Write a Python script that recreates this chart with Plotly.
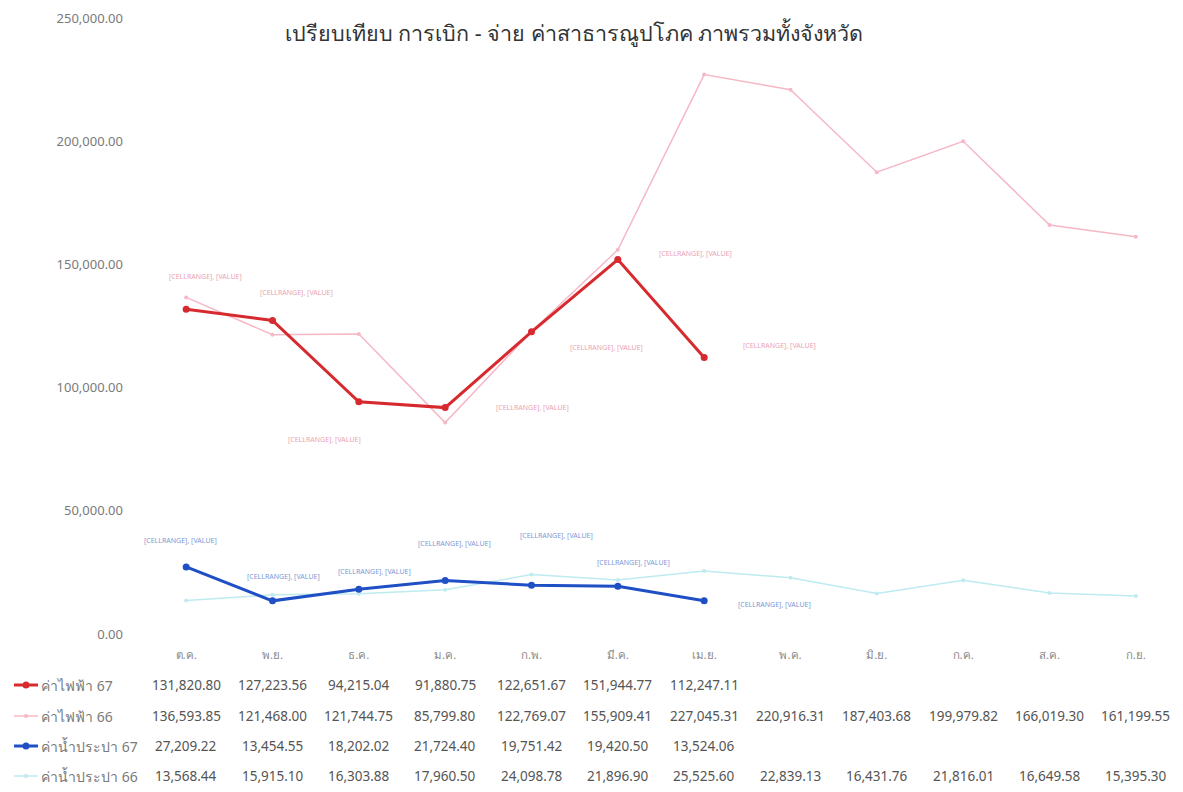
import plotly.graph_objects as go

months = ["ต.ค.", "พ.ย.", "ธ.ค.", "ม.ค.", "ก.พ.", "มี.ค.", "เม.ย.", "พ.ค.", "มิ.ย.", "ก.ค.", "ส.ค.", "ก.ย."]
elec_67 = [131820.80, 127223.56, 94215.04, 91880.75, 122651.67, 151944.77, 112247.11]
elec_66 = [136593.85, 121468.00, 121744.75, 85799.80, 122769.07, 155909.41, 227045.31,
           220916.31, 187403.68, 199979.82, 166019.30, 161199.55]
water_67 = [27209.22, 13454.55, 18202.02, 21724.40, 19751.42, 19420.50, 13524.06]
water_66 = [13568.44, 15915.10, 16303.88, 17960.50, 24098.78, 21896.90, 25525.60,
            22839.13, 16431.76, 21816.01, 16649.58, 15395.30]

series_names = ["ค่าไฟฟ้า 67", "ค่าไฟฟ้า 66", "ค่าน้ำประปา 67", "ค่าน้ำประปา 66"]
title_text = "เปรียบเทียบ การเบิก - จ่าย ค่าสาธารณูปโภค ภาพรวมทั้งจังหวัด"
label_text = "[CELLRANGE], [VALUE]"

# styles
colors = ["#d62a2f", "#f6b8c6", "#1f4fc4", "#bdebf0"]
widths = [3, 1.5, 3, 1.5]
msizes = [7, 4, 7, 4]

# label pixel offsets (style) for the 67 series
elec_lbl_off = [(19, -33), (24, -28), (-34, 38), (87, 0), (75, 16), (78, -6), (75, -12)]
water_lbl_off = [(-6, -26), (11, -24), (16, -18), (9, -37), (25, -50), (16, -24), (70, 4)]

OFF = 8  # page body margin
W, H = 1183, 792
L, R, T, B = 143 - OFF, 12, 18 - OFF, 792 - 634 + OFF
ph = H - T - B
pw = W - L - R

FONT = "Noto Sans, Tahoma, sans-serif"

fig = go.Figure()
all_series = [elec_67, elec_66, water_67, water_66]
order = [1, 3, 0, 2]  # draw light lines beneath
for i in order:
    vals = all_series[i]
    fig.add_trace(go.Scatter(
        x=months[:len(vals)], y=vals, mode="lines+markers", name=series_names[i],
        line=dict(color=colors[i], width=widths[i]),
        marker=dict(color=colors[i], size=msizes[i]),
        showlegend=False))

annotations = []
for vals, offs, col in [(elec_67, elec_lbl_off, "#eaa3b3"), (water_67, water_lbl_off, "#7d98d6")]:
    for k, v in enumerate(vals):
        dx, dy = offs[k]
        annotations.append(dict(x=months[k], y=v, xref="x", yref="y", text=label_text,
                                showarrow=False, xshift=dx, yshift=-dy,
                                font=dict(size=7, color=col, family=FONT)))

# data table
row_px = [685, 716, 746, 776]
fmt = lambda v: f"{v:,.2f}"
shapes = []
bottom_px = H - B
for r, vals in enumerate(all_series):
    yp = (bottom_px - (row_px[r] - OFF)) / ph
    for k, v in enumerate(vals):
        annotations.append(dict(x=months[k], y=yp, xref="x", yref="paper", text=fmt(v),
                                showarrow=False, yanchor="middle",
                                font=dict(size=13.5, color="#555555", family=FONT)))
    # legend key
    x0 = (14 - OFF - L) / pw
    x1 = (38 - OFF - L) / pw
    xm = (26 - OFF - L) / pw
    shapes.append(dict(type="line", xref="paper", yref="paper", x0=x0, x1=x1, y0=yp, y1=yp,
                       line=dict(color=colors[r], width=widths[r])))
    rr = msizes[r] / 2
    shapes.append(dict(type="circle", xref="paper", yref="paper",
                       x0=xm - rr / pw, x1=xm + rr / pw, y0=yp - rr / ph, y1=yp + rr / ph,
                       fillcolor=colors[r], line=dict(color=colors[r], width=0)))
    annotations.append(dict(x=(39 - OFF - L) / pw, y=yp, xref="paper", yref="paper", text=series_names[r],
                            showarrow=False, xanchor="left", yanchor="middle",
                            font=dict(size=14, color="#7a7a7a", family=FONT)))

fig.update_layout(
    width=W, height=H,
    margin=dict(l=L, r=R, t=T, b=B),
    paper_bgcolor="white", plot_bgcolor="white",
    title=dict(text=title_text, x=(574 - OFF) / W, xanchor="center", y=1 - (33 - OFF) / H, yanchor="middle",
               font=dict(size=21.5, color="#333333", family=FONT)),
    xaxis=dict(type="category", categoryorder="array", categoryarray=months,
               range=[-0.5, 11.5], showgrid=False, zeroline=False, showline=False,
               ticks="", ticklabelstandoff=12, automargin=False,
               tickfont=dict(size=11.5, color="#8a8a8a", family=FONT)),
    yaxis=dict(range=[0, 250000], dtick=50000, tickformat=",.2f", showgrid=False,
               zeroline=False, showline=False, ticks="", ticklabelstandoff=19, automargin=False,
               tickfont=dict(size=13, color="#7a7a7a", family=FONT)),
    annotations=annotations,
    shapes=shapes,
)

fig.write_html("out.html")
